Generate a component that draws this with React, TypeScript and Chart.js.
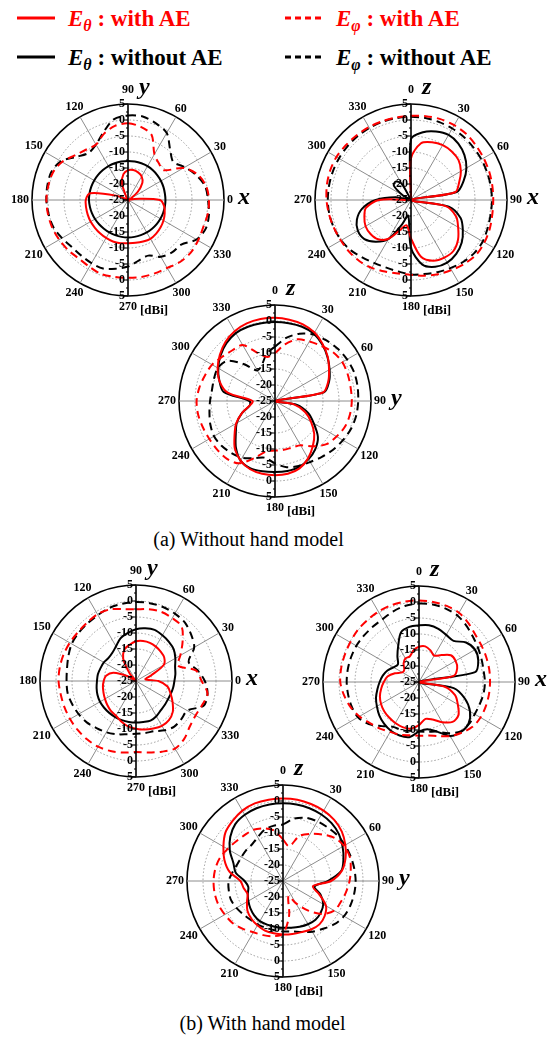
import React, { useEffect, useRef } from 'react';
import { Chart, registerables } from 'chart.js';

Chart.register(...registerables);

// ---------- shared category / tick data ----------
const ANGLES = [0, 10, 20, 30, 40, 50, 60, 70, 80, 90, 100, 110, 120, 130, 140, 150, 160, 170,
  180, 190, 200, 210, 220, 230, 240, 250, 260, 270, 280, 290, 300, 310, 320, 330, 340, 350];
const R_TICKS = [5, 0, -5, -10, -15, -20, -25];
const R_MIN = -25;
const R_MAX = 5;
const UNIT = '[dBi]';
const LEGEND_LABELS = ['with AE', 'without AE'];
const CAPTION_A = '(a) Without hand model';
const CAPTION_B = '(b) With hand model';

// ---------- (a) without hand model ----------
// xy-plane, index = phi/10 (phi counter-clockwise from +x)
const A_XY_ETH_AE = [-15, -23, -25, -24, -21, -18, -16.5, -15.8, -15.5, -15.7, -16.8, -19.5, -24, -25, -25, -25, -21, -13,
  -11.8, -11.7, -11.6, -11.5, -11.5, -11.4, -11.3, -11.2, -11.3, -11.5, -11.4, -11.2, -11, -11.3, -11.7, -12.2, -12.8, -13.5];
const A_XY_EPH_AE = [0.3, -0.2, -1.8, -5, -10.5, -10, -8.5, -3.4, -1.8, -1.0, -1.5, -3.0, -5.0, -4.5, -3.3, -1.2, 0, 0.3,
  0.5, 0.4, 0.2, -0.2, -0.6, -1.1, -0.9, -0.4, -0.6, -0.7, -0.6, -0.6, -0.5, 0.3, 0.6, 0.3, 0.0, 0.3];
const A_XY_ETH_NO = [-13.3, -13.3, -13.2, -13.1, -13, -12.9, -12.8, -12.8, -12.8, -12.8, -12.8, -12.8, -12.8, -12.8, -12.8, -12.8, -12.8, -12.8,
  -12.8, -12.9, -13, -13.1, -13.2, -13.3, -13.3, -13.3, -13.3, -13.3, -13.3, -13.3, -13.3, -13.3, -13.3, -13.3, -13.3, -13.3];
const A_XY_EPH_NO = [0.0, -0.5, -2.3, -4.5, -6.5, -4.5, -0.8, 0.5, 1.5, 1.4, 0.6, -2.5, -5, -5.8, -4, -0.8, 0.5, 0.6,
  0.5, 0.2, -0.2, -1.2, -2.1, -2.3, -2.2, -2.2, -3.2, -4.2, -5.8, -6.5, -4.5, -3.6, -3.3, -0.3, 0.9, 0.7];
// xz-plane, index = theta/10 (clockwise from +z)
const A_XZ_ETH_AE = [-12, -7, -5.8, -5.2, -5.2, -5.6, -7, -9, -11, -25, -14, -10, -8, -5.8, -4.3, -4.2, -4.8, -7,
  -13, -17, -15, -11, -9, -8.5, -8.6, -9.5, -10.7, -15, -25, -25, -25, -25, -25, -25, -25, -25];
const A_XZ_EPH_AE = [1.3, 1.6, 1.9, 2.0, 1.9, 1.5, 1.2, 1.0, 0.8, 0.7, 0.8, 1.2, 1.5, 1.6, 1.0, 0.3, -0.3, -1.0,
  -1.6, -1.7, -1.2, -0.5, 0, 0.2, 0.3, 0.6, 1.0, 1.4, 1.7, 1.9, 1.9, 1.6, 1.4, 1.3, 1.2, 1.2];
const A_XZ_ETH_NO = [-6, -3.5, -2.2, -1.5, -2, -3.2, -5, -7.5, -10.5, -25, -13, -8.5, -6.3, -4.3, -3, -2.4, -2.8, -4.5,
  -10, -20, -17, -11, -8, -6, -5.8, -7, -9.5, -14, -20, -25, -22, -18, -17.5, -19, -25, -25];
const A_XZ_EPH_NO = [1.0, 1.0, 0.9, 0.8, 0.7, 0.5, 0.4, 0.3, 0.3, 0.3, 0.3, 0.5, 0.9, 0.8, 0.3, -0.4, -1.0, -1.5,
  -1.7, -2.3, -2.5, -2.2, -1.5, -0.5, 0.2, 0.6, 0.9, 1.0, 1.0, 1.0, 1.0, 1.0, 1.0, 1.0, 1.0, 1.0];
// yz-plane, index = theta/10 (clockwise from +z)
const A_YZ_ETH_AE = [1.0, 0.8, 0.5, -0.3, -1.8, -3.5, -5.5, -7.3, -9.8, -25, -19, -15, -12, -9, -6.6, -4.3, -2.6, -1.9,
  -1.8, -1.9, -2.3, -3.5, -5.5, -8.5, -11, -14, -17, -18, -10, -6.5, -4.3, -2.5, -0.9, 0.2, 0.8, 1.0];
const A_YZ_EPH_AE = [-10, -7, -4.5, -3.5, -2.5, -1.3, -0.7, -0.8, -1.0, -1.0, -1.2, -1.7, -2.8, -4, -6.5, -9, -9.5, -9.5,
  -9.5, -9, -6, -2.5, -1.5, -1.4, -1.3, -1.0, -0.6, -0.5, -1.0, -1.7, -2.3, -3.5, -4.3, -4.8, -9, -11];
const A_YZ_ETH_NO = [-0.3, -0.3, -0.3, -0.7, -2, -3.6, -5.3, -7, -9.5, -25, -18, -14, -11, -7.5, -5.4, -4, -3, -2.8,
  -2.8, -2.7, -2.6, -3.5, -6, -9, -11.2, -14, -17, -17, -8.7, -6.5, -4.5, -2.8, -1.4, -0.5, -0.3, -0.3];
const A_YZ_EPH_NO = [-8, -5, -2.6, -1, -0.2, 0.5, 1.0, 1.3, 1.2, 1.0, 0.8, 0.3, -0.5, -1.3, -2.2, -3, -3.4, -4,
  -5.5, -7, -6, -4.5, -3.8, -3.2, -3, -3.5, -4.2, -4.7, -5, -4.7, -4.4, -5.5, -10, -14, -13, -10];

// ---------- (b) with hand model ----------
const B_XY_ETH_AE = [-18, -22, -20, -15, -13.5, -13, -12.6, -12.3, -12.3, -12.6, -13.5, -14.5, -17, -22, -25, -22, -17.5, -15.5,
  -14.9, -14.5, -14.2, -13.8, -13.3, -12.8, -12.5, -11.5, -10.6, -10.1, -9.6, -9.2, -8.8, -9.0, -10, -11.8, -13.5, -15];
const B_XY_EPH_AE = [-4.5, -6, -11, -9, -6, -2.8, -2.3, -2.0, -2.2, -2.6, -2.2, -1.2, -0.9, -1.2, -1.3, -1.1, -0.9, -0.8,
  -0.8, -1.1, -1.2, -1.2, -1.2, -1.2, -1.3, -1.7, -2.3, -2.8, -2.3, -1.5, -0.6, -1.5, -3, -3.5, -3, -2.3];
const B_XY_ETH_NO = [-13, -12.5, -12, -10.8, -9.6, -9, -8.5, -8.0, -8.3, -8.8, -9.8, -10.8, -12.5, -13.5, -13.8, -13.4, -13.2, -12.9,
  -12.8, -12.5, -12.2, -12, -12, -12, -12, -12, -12, -12, -12, -11.8, -12.3, -13, -13.3, -13.5, -13.4, -13.2];
const B_XY_EPH_NO = [-3.5, -5.5, -7.5, -4, -2.5, -1.2, -0.7, -0.4, -0.3, -0.3, -0.5, -0.7, -1.2, -1.5, -1.6, -1.8, -2.5, -3.1,
  -3.3, -3.3, -3.8, -4.3, -4.9, -5.8, -6.5, -7.3, -8.1, -8.5, -8.5, -8.3, -7.2, -6.4, -6.5, -6.5, -2.5, -2.3];
const B_XZ_ETH_AE = [-14, -13.7, -14.5, -15.5, -14, -12, -11.8, -12.3, -14, -25, -17, -13, -11, -8.9, -8.7, -10.5, -12.5, -13.3,
  -11.5, -10.2, -10, -10.2, -10.5, -10.8, -11.3, -12, -13, -14, -15, -17, -19, -19, -17.5, -16.5, -16.5, -15];
const B_XZ_EPH_AE = [0.5, 0.4, 0.3, 0, -1, -2, -2.4, -2.6, -2.7, -2.8, -2.8, -2.8, -2.8, -3.2, -4.3, -5.5, -7, -8,
  -8.2, -8.1, -7.5, -7, -6, -5, -3.5, -2.2, -1.2, -0.4, -0.3, -0.3, -0.2, 0.1, 0.2, 0.4, 0.5, 0.5];
const B_XZ_ETH_NO = [-7.3, -7, -7.3, -8, -8.2, -5.8, -4.8, -5.3, -7.2, -25, -14, -9.7, -6.6, -4.8, -4.6, -5.5, -8.5, -10,
  -9.5, -7.5, -7.2, -7.4, -8, -8.8, -9.8, -10.7, -11.8, -12.7, -13.5, -14.5, -15.8, -16.4, -14.5, -12, -8.5, -7.5];
const B_XZ_EPH_NO = [-0.5, -0.4, -0.6, -1.0, -2.0, -3, -3.7, -4.2, -4.5, -4.4, -4.5, -4.8, -4.9, -4.6, -4.8, -6.5, -8.5, -9.2,
  -9.5, -9.5, -9, -8.8, -7, -4.5, -3, -2.6, -2.5, -2.4, -2.4, -2.4, -2.4, -2.5, -2.5, -2.3, -1.5, -0.8];
const B_YZ_ETH_AE = [0.8, 0.8, 0.6, 0.4, -0.1, -1, -2.5, -4.2, -6.3, -10, -15.5, -13, -9.5, -8, -7.3, -7.5, -8, -8.2,
  -8.3, -8.4, -8.5, -9, -9.6, -10.5, -12, -13.2, -12.5, -11.7, -8, -5.5, -3.5, -1.5, -0.5, 0.4, 0.8, 0.8];
const B_YZ_EPH_AE = [-12, -14, -10, -8, -6, -4, -3, -2.8, -3.5, -4.2, -5, -5.8, -6.5, -9, -13, -17, -20, -14,
  -8.5, -7.5, -7, -6.5, -5.5, -4.5, -4, -3.5, -3.3, -3.3, -3.5, -4, -5, -5.8, -6.3, -6.5, -7.5, -9];
const B_YZ_ETH_NO = [-0.7, -0.7, -0.8, -1, -1.4, -2.2, -3.5, -4.9, -6.5, -11, -15, -12.5, -10.5, -9.6, -9.2, -9.4, -9.8, -10.2,
  -10.4, -10.5, -10.5, -10.5, -11, -11.7, -12.5, -13.3, -14, -13, -10, -8.5, -5.8, -3.5, -1.8, -1.1, -0.8, -0.7];
const B_YZ_EPH_NO = [-7.3, -5.2, -4, -3.5, -3.2, -2.8, -2.6, -2.5, -2.4, -2.3, -2.4, -2.6, -3, -4, -5.5, -6.7, -8, -9,
  -9.2, -9.4, -9.4, -9.3, -9.2, -8.8, -8.2, -7.7, -7.8, -8, -9, -9.8, -10, -10, -10, -9.2, -8, -7.5];

// ---------- styling ----------
const RED = '#ff0000';
const BLACK = '#000000';
const SERIF = '"Liberation Serif", "Times New Roman", Times, serif';
const CW = 280;
const CH = 250;

type Plane = 'xy' | 'xz' | 'yz';
interface Panel {
  key: string; cx: number; cy: number; plane: Plane; top: string; right: string;
  ethAE: number[]; ephAE: number[]; ethNo: number[]; ephNo: number[];
}

const PANELS: Panel[] = [
  { key: 'a1', cx: 128, cy: 200, plane: 'xy', top: 'y', right: 'x', ethAE: A_XY_ETH_AE, ephAE: A_XY_EPH_AE, ethNo: A_XY_ETH_NO, ephNo: A_XY_EPH_NO },
  { key: 'a2', cx: 411, cy: 200, plane: 'xz', top: 'z', right: 'x', ethAE: A_XZ_ETH_AE, ephAE: A_XZ_EPH_AE, ethNo: A_XZ_ETH_NO, ephNo: A_XZ_EPH_NO },
  { key: 'a3', cx: 275, cy: 401, plane: 'yz', top: 'z', right: 'y', ethAE: A_YZ_ETH_AE, ephAE: A_YZ_EPH_AE, ethNo: A_YZ_ETH_NO, ephNo: A_YZ_EPH_NO },
  { key: 'b1', cx: 136, cy: 681, plane: 'xy', top: 'y', right: 'x', ethAE: B_XY_ETH_AE, ephAE: B_XY_EPH_AE, ethNo: B_XY_ETH_NO, ephNo: B_XY_EPH_NO },
  { key: 'b2', cx: 419, cy: 682, plane: 'xz', top: 'z', right: 'x', ethAE: B_XZ_ETH_AE, ephAE: B_XZ_EPH_AE, ethNo: B_XZ_ETH_NO, ephNo: B_XZ_EPH_NO },
  { key: 'b3', cx: 283, cy: 881, plane: 'yz', top: 'z', right: 'y', ethAE: B_YZ_ETH_AE, ephAE: B_YZ_EPH_AE, ethNo: B_YZ_ETH_NO, ephNo: B_YZ_EPH_NO },
];

// radar index i (clockwise from top) -> physical angle
function angleAt(plane: Plane, i: number): number {
  return plane === 'xy' ? (450 - i * 10) % 360 : (i * 10) % 360;
}

const decorPlugin = {
  id: 'decor',
  afterDatasetsDraw(chart: any, _args: any, opts: any) {
    const s = chart.scales.r;
    const ctx = chart.ctx as CanvasRenderingContext2D;
    const cx = s.xCenter;
    const cy = s.yCenter;
    const R = s.drawingArea;
    ctx.save();
    // vertical axis with ticks
    ctx.strokeStyle = BLACK;
    ctx.lineWidth = 1.5;
    ctx.beginPath();
    ctx.moveTo(cx, cy - R);
    ctx.lineTo(cx, cy + R);
    ctx.stroke();
    ctx.lineWidth = 1;
    for (let v = R_MIN; v <= R_MAX + 0.001; v += 2.5) {
      const d = s.getDistanceFromCenterForValue(v);
      const len = Math.abs(v % 5) < 0.01 ? 4 : 2;
      [-1, 1].forEach((sg) => {
        const y = cy + sg * d;
        ctx.beginPath();
        ctx.moveTo(cx - len, y);
        ctx.lineTo(cx, y);
        ctx.stroke();
      });
    }
    // radial tick labels (mirrored up and down)
    ctx.fillStyle = BLACK;
    ctx.font = `bold 12px ${SERIF}`;
    ctx.textAlign = 'right';
    ctx.textBaseline = 'middle';
    R_TICKS.forEach((v) => {
      const d = s.getDistanceFromCenterForValue(v);
      ctx.fillText(String(v), cx - 3, cy - d);
      if (d > 0.5) ctx.fillText(String(v), cx - 3, cy + d);
    });
    // angle labels
    const labels = chart.data.labels as number[];
    for (let i = 0; i < labels.length; i++) {
      const ang = Number(labels[i]);
      if (ang % 30 !== 0) continue;
      const text = String(ang);
      const p = s.getPointPosition(i, R);
      const c = Math.cos(p.angle);
      const sn = Math.sin(p.angle);
      ctx.font = `bold 12px ${SERIF}`;
      const w = ctx.measureText(text).width;
      const h = 8.5;
      let dist: number;
      if (Math.abs(c) < 0.01) dist = sn < 0 ? R + 14 : R + 11;
      else dist = R + 3 + (Math.abs(c) * w) / 2 + (Math.abs(sn) * h) / 2;
      const x = cx + c * dist;
      const y = cy + sn * dist;
      ctx.textAlign = 'center';
      ctx.textBaseline = 'middle';
      ctx.fillText(text, x, y);
      const base = y + 4;
      if (Math.abs(c) < 0.01 && sn < 0) {
        ctx.font = `italic bold 24px ${SERIF}`;
        ctx.textAlign = 'left';
        ctx.textBaseline = 'alphabetic';
        ctx.fillText(opts.top, cx + 11, base);
      } else if (Math.abs(c) < 0.01 && sn > 0) {
        ctx.font = `bold 13px ${SERIF}`;
        ctx.textAlign = 'left';
        ctx.textBaseline = 'alphabetic';
        ctx.fillText(UNIT, x + w / 2 + 3, base + 3);
      } else if (Math.abs(sn) < 0.01 && c > 0) {
        ctx.font = `italic bold 24px ${SERIF}`;
        ctx.textAlign = 'left';
        ctx.textBaseline = 'alphabetic';
        ctx.fillText(opts.right, x + w / 2 + 5, base);
      }
    }
    ctx.restore();
  },
};

function PolarPanel({ panel }: { panel: Panel }) {
  const ref = useRef<HTMLCanvasElement | null>(null);
  useEffect(() => {
    if (!ref.current) return;
    const n = ANGLES.length;
    const idx = Array.from({ length: n }, (_, i) => ANGLES.indexOf(angleAt(panel.plane, i)));
    const labels = idx.map((k) => ANGLES[k]);
    const pick = (arr: number[]) => idx.map((k) => arr[k]);
    const ds = (label: string, arr: number[], color: string, dashed: boolean) => ({
      label,
      data: pick(arr),
      borderColor: color,
      backgroundColor: 'transparent',
      borderWidth: 2,
      borderDash: dashed ? [8, 5] : [],
      pointRadius: 0,
      fill: false,
      tension: 0.3,
    });
    const chart = new Chart(ref.current, {
      type: 'radar',
      data: {
        labels,
        datasets: [
          ds('Eθ with AE', panel.ethAE, RED, false),
          ds('Eφ with AE', panel.ephAE, RED, true),
          ds('Eθ without AE', panel.ethNo, BLACK, false),
          ds('Eφ without AE', panel.ephNo, BLACK, true),
        ],
      },
      options: {
        responsive: false,
        animation: false,
        devicePixelRatio: 1,
        events: [],
        layout: { padding: { left: 44, right: 44, top: 29, bottom: 29 } },
        plugins: {
          legend: { display: false },
          tooltip: { enabled: false },
          decor: { top: panel.top, right: panel.right },
        } as any,
        scales: {
          r: {
            min: R_MIN,
            max: R_MAX,
            startAngle: 0,
            ticks: { display: false, stepSize: 5 },
            pointLabels: { display: false },
            grid: {
              circular: true,
              color: (c: any) => (c.tick && c.tick.value === R_MAX ? BLACK : '#9a9a9a'),
              lineWidth: (c: any) => (c.tick && c.tick.value === R_MAX ? 1.6 : 1),
            },
            border: {
              dash: (c: any) => (c.tick && c.tick.value === R_MAX ? [] : [1.5, 2]),
            },
            angleLines: {
              display: true,
              color: '#8c8c8c',
              lineWidth: (c: any) => (c.index % 3 === 0 ? 1 : 0),
            },
          } as any,
        },
      },
      plugins: [decorPlugin],
    } as any);
    return () => chart.destroy();
  }, [panel]);
  return (
    <canvas
      ref={ref}
      width={CW}
      height={CH}
      style={{ position: 'absolute', left: panel.cx - CW / 2, top: panel.cy - CH / 2, width: CW, height: CH }}
    />
  );
}

function LegendEntry({ x, y, color, dashed, sym, text }: { x: number; y: number; color: string; dashed: boolean; sym: string; text: string }) {
  return (
    <>
      <svg style={{ position: 'absolute', left: x, top: y - 3, overflow: 'visible' }} width={39} height={6}>
        <line x1={0} y1={3} x2={38} y2={3} stroke={color} strokeWidth={3} strokeDasharray={dashed ? '6 4' : undefined} />
      </svg>
      <div
        style={{
          position: 'absolute', left: x + 51, top: y - 11, font: `bold 23px ${SERIF}`, lineHeight: '23px',
          color, whiteSpace: 'nowrap',
        }}
      >
        <span style={{ fontStyle: 'italic' }}>E</span>
        <span style={{ fontStyle: 'italic', fontSize: 16, position: 'relative', top: 5 }}>{sym}</span>
        {' : ' + text}
      </div>
    </>
  );
}

export default function App() {
  return (
    <div style={{ position: 'absolute', left: 0, top: 0, width: 551, height: 1037, overflow: 'hidden', background: '#fff' }}>
      <LegendEntry x={17} y={18} color={RED} dashed={false} sym="θ" text={LEGEND_LABELS[0]} />
      <LegendEntry x={285} y={18} color={RED} dashed={true} sym="φ" text={LEGEND_LABELS[0]} />
      <LegendEntry x={17} y={57} color={BLACK} dashed={false} sym="θ" text={LEGEND_LABELS[1]} />
      <LegendEntry x={285} y={57} color={BLACK} dashed={true} sym="φ" text={LEGEND_LABELS[1]} />
      {PANELS.map((p) => (
        <PolarPanel key={p.key} panel={p} />
      ))}
      <div style={{ position: 'absolute', left: 0, width: 497, top: 529, textAlign: 'center', font: `20px ${SERIF}`, lineHeight: '20px', color: '#000' }}>
        {CAPTION_A}
      </div>
      <div style={{ position: 'absolute', left: 0, width: 525, top: 1013, textAlign: 'center', font: `20px ${SERIF}`, lineHeight: '20px', color: '#000' }}>
        {CAPTION_B}
      </div>
    </div>
  );
}
